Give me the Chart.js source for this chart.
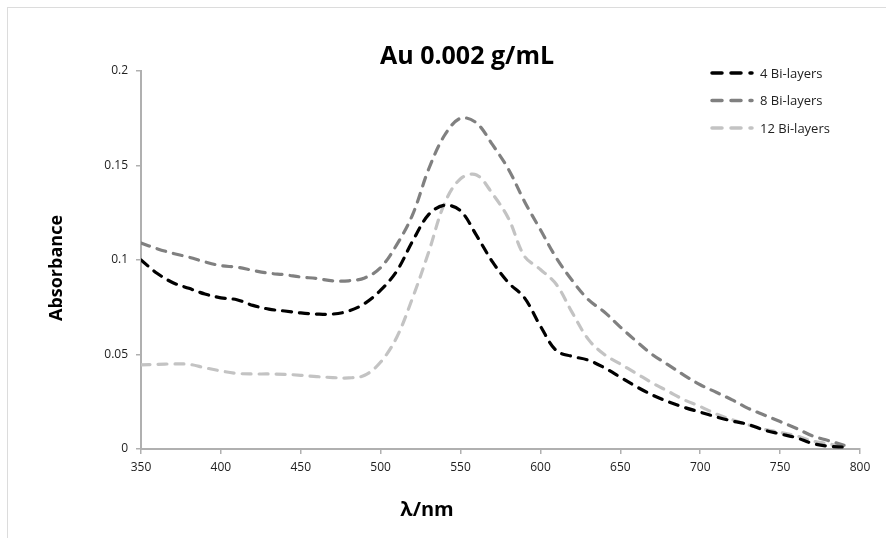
<!DOCTYPE html>
<html>
<head>
<meta charset="utf-8">
<script src="https://cdn.jsdelivr.net/npm/chart.js@4"></script>
<style>
  html, body { margin: 0; padding: 0; background: #fff; }
  #wrap { position: relative; width: 892px; height: 541px; }
  #frame { position: absolute; left: 7px; top: 7px; width: 878px; height: 530px; border: 1px solid #dcdcdc; border-right: none; border-bottom: none; pointer-events: none; }
</style>
</head>
<body>
<div id="wrap">
  <canvas id="absChart" width="892" height="541"></canvas>
  <div id="frame"></div>
</div>
<script>
// 波长 (nm)
const wavelengths = [350, 360, 370, 380, 390, 400, 410, 420, 430, 440, 450, 460, 470, 480, 490,
    500, 510, 520, 530, 540, 550, 560, 570, 580, 590, 600, 610, 620, 630, 640,
    650, 660, 670, 680, 690, 700, 710, 720, 730, 740, 750, 760, 770, 780, 790];

// 吸光度
const bi4 = [0.100, 0.093, 0.088, 0.085, 0.082, 0.080, 0.079, 0.076, 0.074, 0.073, 0.072, 0.0714, 0.0714, 0.073, 0.077,
    0.084, 0.094, 0.110, 0.124, 0.129, 0.126, 0.113, 0.099, 0.088, 0.080, 0.065, 0.052, 0.049, 0.047, 0.043,
    0.038, 0.033, 0.0286, 0.025, 0.022, 0.0195, 0.017, 0.0148, 0.013, 0.010, 0.008, 0.006, 0.003, 0.0015, 0.001];

const bi8 = [0.109, 0.106, 0.1035, 0.1015, 0.099, 0.097, 0.0962, 0.0945, 0.093, 0.0922, 0.091, 0.0902, 0.089, 0.089, 0.0905,
    0.096, 0.108, 0.124, 0.148, 0.166, 0.175, 0.1725, 0.161, 0.148, 0.131, 0.116, 0.101, 0.089, 0.079, 0.0725,
    0.0645, 0.057, 0.050, 0.0445, 0.039, 0.034, 0.030, 0.026, 0.0215, 0.018, 0.0145, 0.011, 0.007, 0.0045, 0.002];

const bi12 = [0.0445, 0.0448, 0.045, 0.0448, 0.043, 0.0413, 0.040, 0.0397, 0.0397, 0.0395, 0.039, 0.0383, 0.0378, 0.0376, 0.039,
    0.046, 0.059, 0.080, 0.104, 0.130, 0.143, 0.145, 0.135, 0.122, 0.102, 0.095, 0.087, 0.072, 0.058, 0.050,
    0.045, 0.040, 0.035, 0.0305, 0.026, 0.0225, 0.0185, 0.0155, 0.0128, 0.0105, 0.0088, 0.007, 0.0043, 0.0028, 0.001];

const seriesNames = ['4 Bi-layers', '8 Bi-layers', '12 Bi-layers'];
const seriesColors = ['#000000', '#808080', '#c3c3c3'];

const toPoints = vals => vals.map((v, i) => ({ x: wavelengths[i], y: v }));

// 标题、轴标题、图例
const textPlugin = {
    id: 'textPlugin',
    afterDraw(chart) {
        const ctx = chart.ctx;
        ctx.save();
        ctx.fillStyle = '#000';
        ctx.textAlign = 'center';
        ctx.textBaseline = 'middle';
        ctx.font = 'bold 25px "Open Sans"';
        ctx.fillText('Au 0.002 g/mL', 467, 57);

        ctx.font = 'bold 20px "Open Sans"';
        ctx.fillText('\u03bb/nm', 427, 510);

        ctx.translate(57, 268);
        ctx.rotate(-Math.PI / 2);
        ctx.font = 'bold 18px "Open Sans"';
        ctx.fillText('Absorbance', 0, 0);
        ctx.restore();

        // 图例
        ctx.save();
        chart.data.datasets.forEach((ds, i) => {
            const y = 73 + i * 27.5;
            ctx.strokeStyle = ds.borderColor;
            ctx.lineWidth = 3.5;
            ctx.lineCap = 'round';
            ctx.setLineDash([10, 9]);
            ctx.beginPath();
            ctx.moveTo(712, y);
            ctx.lineTo(752, y);
            ctx.stroke();
            ctx.setLineDash([]);
            ctx.fillStyle = '#222';
            ctx.font = '13px "Open Sans"';
            ctx.textAlign = 'left';
            ctx.textBaseline = 'middle';
            ctx.fillText(ds.label, 760, y + 1);
        });
        ctx.restore();
    }
};

const ctx = document.getElementById('absChart').getContext('2d');
const chart = new Chart(ctx, {
    type: 'line',
    data: {
        datasets: [bi4, bi8, bi12].map((vals, i) => ({
            label: seriesNames[i],
            data: toPoints(vals),
            borderColor: seriesColors[i],
            borderWidth: 3.2,
            borderDash: [9, 8],
            borderCapStyle: 'round',
            pointRadius: 0,
            tension: 0.35,
            fill: false
        }))
    },
    options: {
        responsive: false,
        animation: false,
        layout: {
            padding: { left: 0, top: 71, right: 32, bottom: 0 }
        },
        plugins: {
            legend: { display: false },
            tooltip: { enabled: false },
            title: { display: false }
        },
        scales: {
            x: {
                type: 'linear',
                min: 350,
                max: 800,
                afterFit: scale => { scale.height = 92; },
                ticks: {
                    stepSize: 50,
                    color: '#222',
                    font: { family: '"Open Sans"', size: 12 },
                    padding: 6
                },
                grid: {
                    drawOnChartArea: false,
                    color: '#b0b0b0',
                    tickLength: 5,
                    lineWidth: 1.5
                },
                border: { color: '#b0b0b0', width: 2 }
            },
            y: {
                min: 0,
                max: 0.2,
                afterFit: scale => { scale.width = 141; },
                ticks: {
                    stepSize: 0.05,
                    color: '#222',
                    font: { family: '"Open Sans"', size: 12 },
                    padding: 8,
                    callback: v => String(+v.toFixed(2))
                },
                grid: {
                    drawOnChartArea: false,
                    color: '#b0b0b0',
                    tickLength: 5,
                    lineWidth: 1.5
                },
                border: { color: '#b0b0b0', width: 2 }
            }
        }
    },
    plugins: [textPlugin]
});
</script>
</body>
</html>
